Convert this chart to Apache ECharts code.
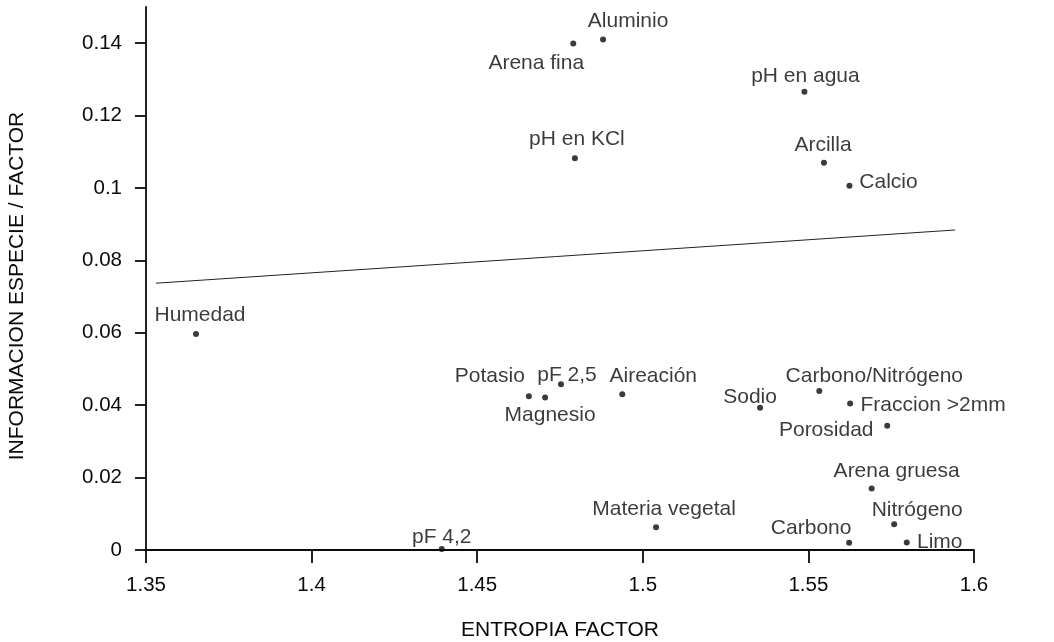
<!DOCTYPE html>
<html>
<head>
<meta charset="utf-8">
<script src="https://cdn.jsdelivr.net/npm/echarts@6/dist/echarts.min.js"></script>
<style>
  html, body { margin: 0; padding: 0; background: #ffffff; }
  #chart { width: 1054px; height: 642px; }
</style>
</head>
<body>
<div id="chart"></div>
<script>
// ---- data ----
var factorNames = ['Aluminio', 'Arena fina', 'pH en agua', 'pH en KCl', 'Arcilla', 'Calcio',
  'Humedad', 'Potasio', 'Magnesio', 'pF 2,5', 'Aireación', 'Sodio', 'Carbono/Nitrógeno',
  'Fraccion >2mm', 'Porosidad', 'Arena gruesa', 'Materia vegetal', 'Carbono', 'Nitrógeno',
  'Limo', 'pF 4,2'];
var entropiaFactor = [1.488, 1.479, 1.5488, 1.4795, 1.5547, 1.5624,
  1.3651, 1.4656, 1.4705, 1.4753, 1.4938, 1.5354, 1.5533,
  1.5626, 1.5738, 1.5691, 1.504, 1.5623, 1.5759,
  1.5797, 1.4393];
var informacion = [0.1410, 0.1399, 0.1266, 0.1082, 0.1070, 0.1006,
  0.0597, 0.0425, 0.0421, 0.0458, 0.0430, 0.0393, 0.0439,
  0.0405, 0.0343, 0.0170, 0.0063, 0.0020, 0.0071,
  0.0021, 0.0003];
var thresholdX = [1.353, 1.5943];
var thresholdY = [0.0737, 0.0884];
var thresholdLabel = '5 %';
var xTickValues = [1.35, 1.4, 1.45, 1.5, 1.55, 1.6];
var yTickValues = [0, 0.02, 0.04, 0.06, 0.08, 0.1, 0.12, 0.14];
var xTitle = 'ENTROPIA FACTOR';
var yTitle = 'INFORMACION ESPECIE / FACTOR';

// ---- label placement (layout only: text centre offset from its dot, px) ----
var labelShift = [[25, -18], [-37, 20], [1, -16], [2, -19], [-1, -17], [39, -4],
  [4, -19], [-39, -20], [5, 18], [6, -9], [31, -18], [-10, -11], [55, -15],
  [83, 2], [-61, 4], [25, -17], [8, -18], [-38, -15], [23, -14],
  [33, 0], [0, -12]];

var FONT = '"Liberation Sans", Arial, Helvetica, sans-serif';
var INK = '#0a0a0a';

var scatterData = factorNames.map(function (n, i) {
  return {
    name: n,
    value: [entropiaFactor[i], informacion[i]],
    label: { offset: labelShift[i] }
  };
});

var lineData = thresholdX.map(function (x, i) {
  var d = { value: [x, thresholdY[i]] };
  if (i === thresholdX.length - 1) {
    d.label = { show: true, formatter: thresholdLabel, position: 'right', distance: 9,
      fontSize: 17, color: INK, fontFamily: FONT };
  }
  return d;
});

var chart = echarts.init(document.getElementById('chart'));
chart.setOption({
  animation: false,
  backgroundColor: '#ffffff',
  grid: { left: 146, right: 80, top: 7, bottom: 92, containLabel: false, outerBoundsMode: 'none' },
  xAxis: {
    type: 'value', min: 1.35, max: 1.6, interval: 0.05,
    name: xTitle, nameLocation: 'middle', nameGap: 70,
    nameTextStyle: { fontSize: 21, color: INK, fontFamily: FONT },
    axisLine: { show: true, onZero: false, lineStyle: { color: INK, width: 1.8 } },
    axisTick: { show: true, length: 13, lineStyle: { color: INK, width: 1.8 }, customValues: xTickValues },
    axisLabel: { fontSize: 20.5, color: INK, fontFamily: FONT, margin: 25, customValues: xTickValues },
    splitLine: { show: false }
  },
  yAxis: {
    type: 'value', min: 0, max: 0.15,
    name: yTitle, nameLocation: 'middle', nameGap: 118, nameRotate: 90,
    nameTextStyle: { fontSize: 21, color: INK, fontFamily: FONT, padding: [0, 15, 0, 0] },
    axisLine: { show: true, onZero: false, lineStyle: { color: INK, width: 1.8 } },
    axisTick: { show: true, length: 11, lineStyle: { color: INK, width: 1.8 }, customValues: yTickValues },
    axisLabel: { fontSize: 20.5, color: INK, fontFamily: FONT, margin: 24, customValues: yTickValues },
    splitLine: { show: false }
  },
  series: [
    {
      type: 'line',
      data: lineData,
      showSymbol: false,
      symbol: 'none',
      lineStyle: { color: '#222', width: 1 },
      silent: true,
      z: 1
    },
    {
      type: 'scatter',
      data: scatterData,
      symbol: 'circle',
      symbolSize: 6,
      itemStyle: { color: INK },
      label: {
        show: true, position: 'inside', formatter: '{b}',
        fontSize: 21, color: INK, fontFamily: FONT
      },
      emphasis: { disabled: true },
      silent: true,
      z: 2
    }
  ]
});
</script>
</body>
</html>
